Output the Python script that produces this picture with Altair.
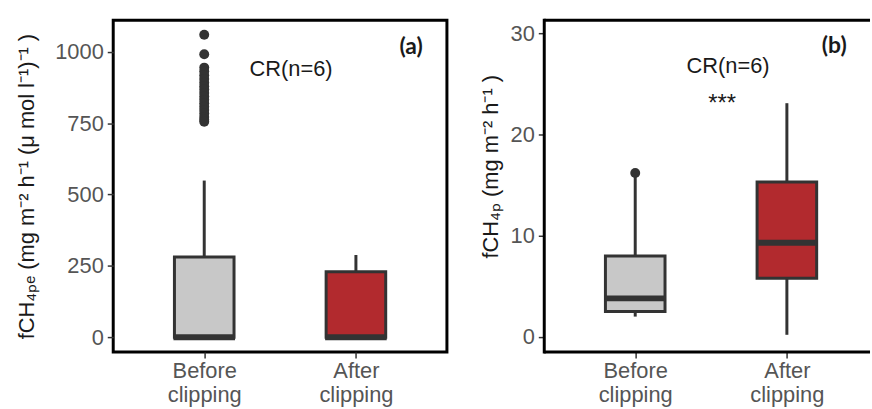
import altair as alt
import pandas as pd

# ---------------- data ----------------
cats = ["Before clipping", "After clipping"]
fills = ["#c8c8c8", "#b22a2e"]

# panel (a): fCH4pe
a_lower = [0, 0]
a_q1 = [0, 0]
a_median = [0, 0]
a_q3 = [281, 229]
a_upper = [549, 288]
a_out_before = [1060, 992, 945, 932, 918, 905, 892, 880, 868, 856, 844, 832,
                820, 808, 796, 784, 772, 762, 755]
a_ticks = [0, 250, 500, 750, 1000]

# panel (b): fCH4p
b_lower = [2.0, 0.2]
b_q1 = [2.5, 5.8]
b_median = [3.8, 9.3]
b_q3 = [8.0, 15.3]
b_upper = [16.0, 23.1]
b_out_before = [16.2]
b_ticks = [0, 10, 20, 30]

title_a = "fCH\u2084\u209a\u2091 (mg  m\u207b\u00b2 h\u207b\u00b9 (\u03bc mol l\u207b\u00b9)\u207b\u00b9 )"
title_b = "fCH\u2084\u209a (mg  m\u207b\u00b2 h\u207b\u00b9 )"

FONT = "Liberation Sans"
DARK = "#333333"
H = 334


def panel(lower, q1, med, q3, upper, outliers, ydom, yticks, ytitle,
          tpad, width, xpad, xalign, left_axis_domain, ann, title_y=None):
    df = pd.DataFrame({"cat": cats, "lower": lower, "q1": q1, "median": med,
                       "q3": q3, "upper": upper})
    out = pd.DataFrame({"cat": [cats[0]] * len(outliers), "value": outliers})

    xax = alt.Axis(title=None, labelAngle=0, labelExpr="split(datum.label, ' ')",
                   labelLineHeight=24, labelPadding=3, domain=False,
                   labelFont=FONT, labelFontSize=22, labelColor="#555555",
                   tickColor=DARK, tickSize=6, tickWidth=1.5, grid=False)
    ykw = dict(title=ytitle, values=yticks, domain=False, grid=False, format="d",
               labelFont=FONT, labelFontSize=22, labelColor="#555555",
               labelPadding=4, tickColor=DARK, tickSize=6, tickWidth=1.5,
               titleFont=FONT, titleFontSize=22, titleColor="#1a1a1a",
               titleFontWeight="normal", titlePadding=tpad)
    if title_y is not None:
        ykw["titleY"] = title_y
    yax = alt.Axis(**ykw)
    xs = alt.Scale(type="point", padding=xpad, align=xalign)
    ys = alt.Scale(domain=ydom, nice=False, zero=False)

    def X():
        return alt.X("cat:N", sort=cats, scale=xs, axis=xax)

    def Y(f):
        return alt.Y(f, type="quantitative", scale=ys, axis=yax)

    base = alt.Chart(df)
    whisk = base.mark_rule(color=DARK, strokeWidth=3).encode(
        x=X(), y=Y("lower"), y2="upper")
    box = base.mark_bar(size=60, stroke=DARK, strokeWidth=3).encode(
        x=X(), y=Y("q1"), y2="q3",
        fill=alt.Fill("cat:N", scale=alt.Scale(domain=cats, range=fills), legend=None))
    medl = base.mark_tick(color=DARK, thickness=6, size=62, opacity=1).encode(
        x=X(), y=Y("median"))
    pts = alt.Chart(out).mark_circle(size=100, color=DARK, opacity=1).encode(
        x=X(), y=Y("value"))

    layers = [whisk, box, medl, pts]
    for txt, px, py, bold, fs in ann:
        layers.append(
            alt.Chart(pd.DataFrame({"t": [txt]})).mark_text(
                font=("Lato" if bold else FONT), fontSize=fs,
                fontWeight=("bold" if bold else "normal"), color="#1a1a1a",
                align="center", baseline="middle").encode(
                text="t:N", x=alt.value(px), y=alt.value(py)))
    if left_axis_domain:
        dummy = alt.Chart(pd.DataFrame({"d": [0]}))
        layers.append(dummy.mark_rule(color="black", strokeWidth=3, strokeCap="square")
                      .encode(x=alt.value(0), y=alt.value(0), y2=alt.value(H)))
        layers.append(dummy.mark_rule(color="black", strokeWidth=3)
                      .encode(x=alt.value(0), x2=alt.value(width), y=alt.value(0)))
        layers.append(dummy.mark_rule(color="black", strokeWidth=3)
                      .encode(x=alt.value(0), x2=alt.value(width), y=alt.value(H)))
        view = alt.ViewBackground(stroke="transparent", strokeWidth=0)
    else:
        view = alt.ViewBackground(stroke="black", strokeWidth=3)
    return alt.layer(*layers).properties(width=width, height=H, view=view)


pa = panel(a_lower, a_q1, a_median, a_q3, a_upper, a_out_before,
           [-52, 1111], a_ticks, title_a, 16, 336, 0.6, 0.5, False,
           [("CR(n=6)", 179, 49, False, 22), ("(a)", 300, 27, True, 23)])
pb = panel(b_lower, b_q1, b_median, b_q3, b_upper, b_out_before,
           [-1.5, 31.3], b_ticks, title_b, 8, 328, 0.574, 0.5225, True,
           [("CR(n=6)", 185, 46, False, 22), ("***", 179, 84, False, 24),
            ("(b)", 292, 26, True, 23)], title_y=147)

chart = alt.hconcat(pa, pb, spacing=30).properties(
    padding={"left": 14, "top": 16, "right": 0, "bottom": 0}
).configure(background="white")

chart.save("out.html", embed_options={"renderer": "svg", "actions": False})
